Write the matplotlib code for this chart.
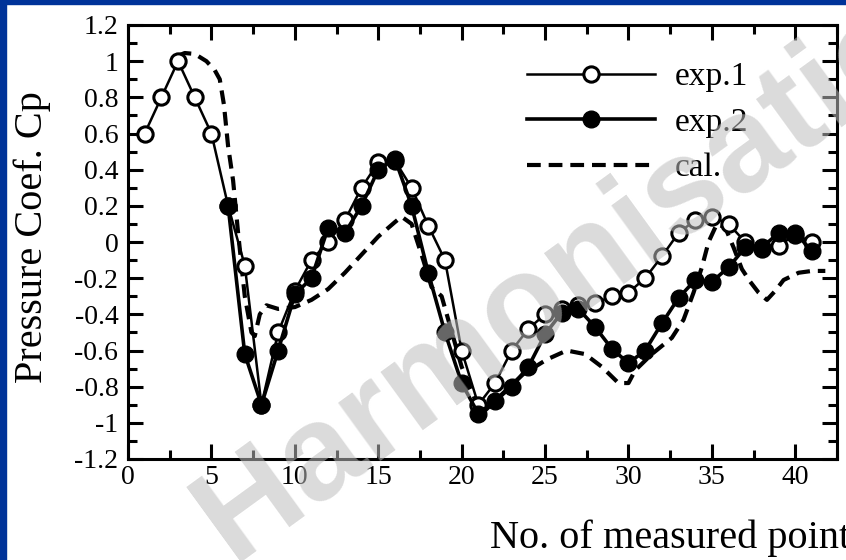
import matplotlib
matplotlib.use("Agg")
import matplotlib.pyplot as plt
from matplotlib.patches import Rectangle

# ── data ────────────────────────────────────────────────────────────────────
exp1_x = list(range(1, 42))
exp1_y = [0.60, 0.80, 1.00, 0.80, 0.60, 0.20, -0.13, -0.90, -0.50, -0.27,
          -0.10, 0.00, 0.12, 0.30, 0.44, 0.45, 0.30, 0.09, -0.10, -0.60,
          -0.90, -0.78, -0.60, -0.48, -0.40, -0.37, -0.35, -0.34, -0.30, -0.28,
          -0.20, -0.08, 0.05, 0.12, 0.14, 0.10, 0.00, -0.04, -0.02, 0.04,
          0.00]

exp2_x = list(range(6, 42))
exp2_y = [0.20, -0.62, -0.90, -0.60, -0.29, -0.20, 0.08, 0.05, 0.20, 0.40,
          0.46, 0.20, -0.17, -0.50, -0.78, -0.95, -0.88, -0.80, -0.69, -0.51,
          -0.39, -0.37, -0.47, -0.59, -0.67, -0.60, -0.45, -0.31, -0.21, -0.22,
          -0.14, -0.03, -0.03, 0.05, 0.05, -0.05]

cal_x = [3.0, 3.4, 4.0, 4.7, 5.2, 5.5, 5.75, 6.0, 6.3, 6.6, 7.0, 7.4, 7.6,
         7.9, 8.3, 9.0, 10.0, 11.0, 12.0, 13.0, 14.0, 15.0, 16.0, 16.4, 17.0,
         17.7, 18.2, 18.8, 19.2, 20.0, 20.8, 21.2, 22.1, 23.0, 23.7, 25.1,
         26.3, 27.4, 28.4, 29.4, 30.0, 30.4, 31.4, 32.6, 33.3, 33.9, 34.4,
         34.8, 35.3, 35.8, 36.3, 36.8, 37.3, 37.8, 38.3, 38.8, 39.3, 40.2,
         41.0, 41.8]
cal_y = [1.03, 1.045, 1.04, 1.00, 0.95, 0.90, 0.76, 0.53, 0.34, 0.05, -0.30,
         -0.50, -0.52, -0.40, -0.35, -0.37, -0.36, -0.32, -0.26, -0.17, -0.07,
         0.03, 0.11, 0.14, 0.10, -0.10, -0.25, -0.30, -0.43, -0.69, -0.87,
         -0.95, -0.87, -0.79, -0.73, -0.65, -0.60, -0.62, -0.69, -0.78, -0.78,
         -0.71, -0.62, -0.53, -0.43, -0.28, -0.14, 0.00, 0.10, 0.08, -0.03,
         -0.15, -0.22, -0.28, -0.32, -0.27, -0.21, -0.17, -0.16, -0.16]

x_ticks = [0, 5, 10, 15, 20, 25, 30, 35, 40]
y_ticks = [1.2, 1.0, 0.8, 0.6, 0.4, 0.2, 0.0, -0.2, -0.4, -0.6, -0.8, -1.0, -1.2]
y_tick_labels = ["1.2", "1", "0.8", "0.6", "0.4", "0.2", "0", "-0.2", "-0.4",
                 "-0.6", "-0.8", "-1", "-1.2"]

plt.rcParams["font.family"] = ["Liberation Serif", "DejaVu Serif"]

fig = plt.figure(figsize=(8.46, 5.6), dpi=100)
W, H = 846, 560

# blue slide frame (left and top)
BLUE = "#003399"
fig.patches.append(Rectangle((0, 0), 6 / W, 1, transform=fig.transFigure,
                             color=BLUE, zorder=0))
fig.patches.append(Rectangle((0, 1 - 4 / H), 1, 4 / H, transform=fig.transFigure,
                             color=BLUE, zorder=0))

ax = fig.add_axes([128 / W, 1 - 459 / H, (837 - 128) / W, (459 - 25) / H])

ax.plot(exp1_x, exp1_y, color="black", lw=1.8, marker="o", ms=11,
        mfc="white", mec="black", mew=2.2, label="exp.1", zorder=3)
ax.plot(exp2_x, exp2_y, color="black", lw=2.6, marker="o", ms=12,
        mfc="black", mec="black", label="exp.2", zorder=4)
ax.plot(cal_x, cal_y, color="black", lw=3, linestyle=(0, (3.3, 1.9)),
        label="cal.", zorder=2)

ax.set_xlim(0, 41.8)
ax.set_ylim(-1.2, 1.2)
ax.set_xticks(x_ticks)
ax.set_xticks([2.5 + 5 * i for i in range(9)], minor=True)
ax.set_yticks(y_ticks)
ax.set_yticklabels(y_tick_labels)
ax.set_yticks([-1.1 + 0.2 * i for i in range(12)], minor=True)

ax.tick_params(which="both", direction="in", top=True, right=True,
               width=2.2, labelsize=20)
ax.tick_params(which="major", length=11)
ax.tick_params(which="minor", length=6.5)
ax.tick_params(axis="y", pad=7)
ax.tick_params(axis="x", pad=4)
for sp in ax.spines.values():
    sp.set_linewidth(2.2)

leg = ax.legend(loc="upper left", bbox_to_anchor=(527 / W, 1 - 62 / H),
                bbox_transform=fig.transFigure, frameon=False, fontsize=24,
                handlelength=3.83, handletextpad=0.6, labelspacing=0.45,
                borderpad=0, borderaxespad=0, numpoints=1)

fig.text(32 / W, 1 - 237 / H, "Pressure Coef. Cp", rotation=90,
         ha="center", va="center", fontsize=29)
fig.text(490 / W, 1 - 548 / H, "No. of measured points", ha="left",
         va="baseline", fontsize=29)

# watermark across the slide
fig.text(232 / W, 1 - 562 / H, "Harmonisation", rotation=36,
         rotation_mode="anchor", ha="left", va="baseline", fontsize=97,
         fontweight="bold", family=["Liberation Sans", "DejaVu Sans"],
         color=(0.74, 0.74, 0.74), alpha=0.55, zorder=10)

fig.savefig("out.png", dpi=100)
